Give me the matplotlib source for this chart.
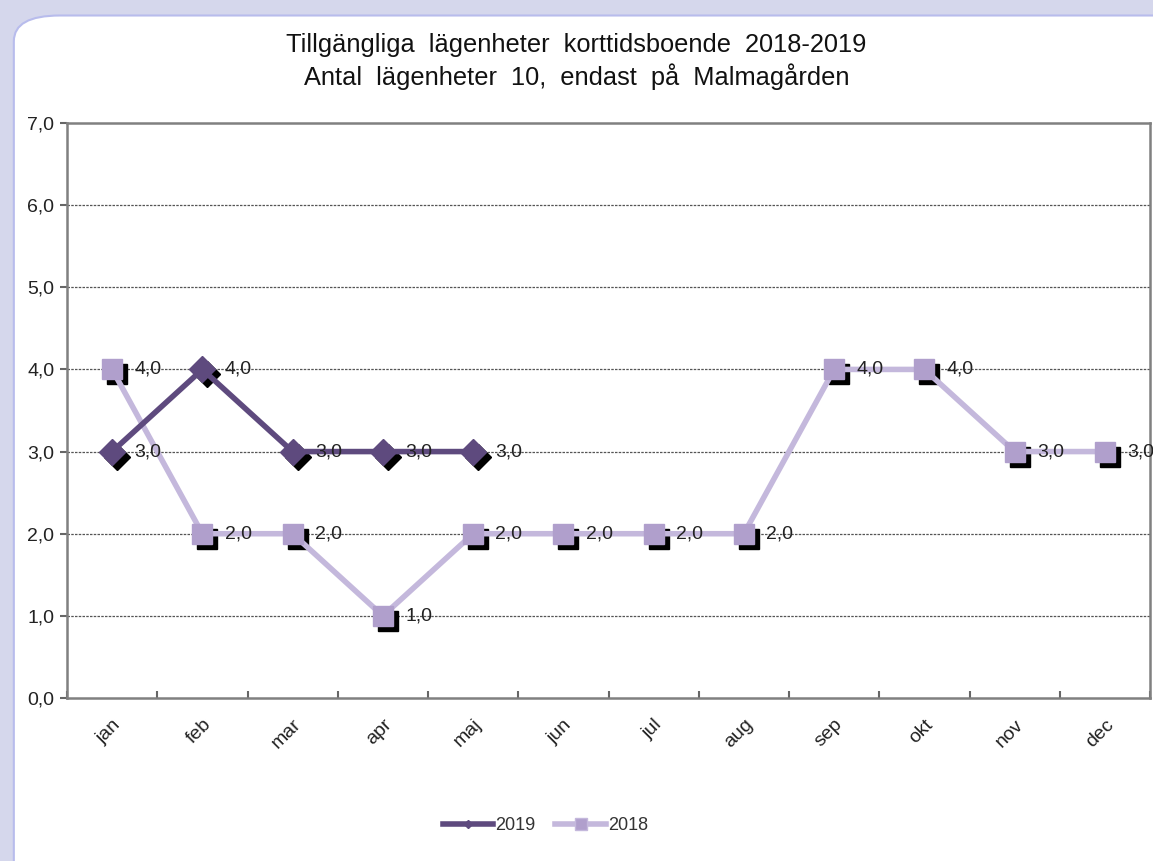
import numpy as np
import matplotlib.pyplot as plt
from matplotlib.patches import FancyBboxPatch
import matplotlib.transforms as mtransforms

plt.rcParams['font.family'] = ['Liberation Sans', 'DejaVu Sans']

# data
months = ['jan', 'feb', 'mar', 'apr', 'maj', 'jun', 'jul', 'aug', 'sep', 'okt', 'nov', 'dec']
v2019 = [3, 4, 3, 3, 3]
v2018 = [4, 2, 2, 1, 2, 2, 2, 2, 4, 4, 3, 3]

c2019 = '#5e4a7e'
c2018 = '#c4b8dc'
c2018_marker = '#b09fcc'

fig = plt.figure(figsize=(11.53, 8.61), dpi=100)
fig.patch.set_facecolor('#d5d7ec')

# white rounded panel
panel = FancyBboxPatch((0.012, -0.03), 1.05, 1.012, boxstyle='round,pad=0,rounding_size=0.04',
                       transform=fig.transFigure, facecolor='white', edgecolor='#b8bcec',
                       linewidth=1.5, zorder=-5, mutation_aspect=861 / 1153)
fig.patches.append(panel)

ax = fig.add_axes([67 / 1153, 1 - 698 / 861, (1150 - 67) / 1153, (698 - 123) / 861])
ax.set_facecolor('none')
ax.set_zorder(2)

x18 = np.arange(len(v2018))
x19 = np.arange(len(v2019))

# black drop shadows of markers
shadow = mtransforms.offset_copy(ax.transData, fig=fig, x=3.6, y=-3.6, units='points')
ax.plot(x19, v2019, 'D', ms=13.5, color='black', transform=shadow, zorder=2)
ax.plot(x18, v2018, 's', ms=14, color='black', transform=shadow, zorder=2)

ax.plot(x18, v2018, '-', lw=4, color=c2018, zorder=3)
ax.plot(x18, v2018, 's', ms=14, color=c2018_marker, zorder=4)
ax.plot(x19, v2019, '-', lw=4, color=c2019, zorder=5)
ax.plot(x19, v2019, 'D', ms=13.5, color=c2019, zorder=6)

for xs, vs in [(x18, v2018), (x19, v2019)]:
    for xi, vi in zip(xs, vs):
        ax.annotate(f'{vi:.1f}'.replace('.', ','), (xi, vi), xytext=(16, 0),
                    textcoords='offset points', va='center', ha='left',
                    fontsize=14, color='#222222', zorder=7)

# legend proxies
ax.plot([], [], '-', lw=4, color=c2019, marker='D', ms=4, label='2019')
ax.plot([], [], '-', lw=4, color=c2018, marker='s', ms=8, mfc=c2018_marker, label='2018')
leg = fig.legend(loc='center', bbox_to_anchor=(0.473, 1 - 826 / 861), ncol=2, frameon=False,
                 fontsize=13, handlelength=2.8, handletextpad=0.1, columnspacing=1.1)
for t in leg.get_texts():
    t.set_color('#333333')

ax.set_xlim(-0.5, len(months) - 0.5)
ax.set_ylim(0, 7)
ax.set_yticks(range(8))
ax.set_yticklabels([f'{v:.1f}'.replace('.', ',') for v in range(8)], fontsize=14, color='#222222')
ax.set_xticks(np.arange(len(months) + 1) - 0.5, minor=False)
ax.set_xticklabels([])
ax.set_xticks(np.arange(len(months)), minor=True)
ax.set_xticklabels(months, minor=True, rotation=45, ha='right', va='top',
                   fontsize=14, color='#222222', rotation_mode='anchor')
ax.tick_params(axis='x', which='minor', length=0, pad=13)
ax.tick_params(axis='x', which='major', length=5, width=1.5, color='#666666', direction='in')
ax.tick_params(axis='y', length=5, width=1.5, color='#666666', direction='out', pad=4)

for y in range(1, 7):
    ax.axhline(y, color='#555555', lw=0.9, ls=(0, (2, 1)), zorder=1)
for s in ax.spines.values():
    s.set_color('#808080')
    s.set_linewidth(1.8)

fig.text(0.5, 1 - 45 / 861, 'Tillgängliga  lägenheter  korttidsboende  2018-2019', ha='center',
         va='center', fontsize=18.3, color='#111111')
fig.text(0.5, 1 - 77 / 861, 'Antal  lägenheter  10,  endast  på  Malmagården', ha='center',
         va='center', fontsize=18.3, color='#111111')

fig.savefig('out.png', dpi=100, facecolor=fig.get_facecolor())
